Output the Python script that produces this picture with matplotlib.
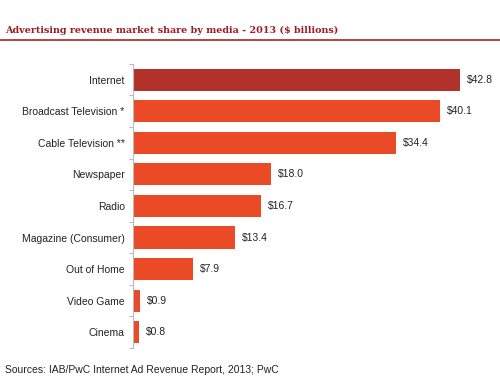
import matplotlib.pyplot as plt
from matplotlib.lines import Line2D

media = ["Internet", "Broadcast Television *", "Cable Television **", "Newspaper",
         "Radio", "Magazine (Consumer)", "Out of Home", "Video Game", "Cinema"]
revenue = [42.8, 40.1, 34.4, 18.0, 16.7, 13.4, 7.9, 0.9, 0.8]
colors = ["#b3312b"] + ["#ea4a26"] * 8

fig = plt.figure(figsize=(5, 3.85), dpi=100)
ax = fig.add_axes([0.266, 0.096, 0.734, 0.738])

y = list(range(len(media)))
ax.barh(y, revenue, height=0.7, color=colors)
ax.set_ylim(len(media) - 0.5, -0.5)
ax.set_xlim(0, 48)

for i, v in enumerate(revenue):
    ax.text(v + 0.9, i, f"${v:.1f}", va="center", ha="left",
            fontsize=7.5, family="Liberation Sans", color="#222222")

ax.set_yticks(y)
ax.set_yticklabels(media, fontsize=7.5, family="Liberation Sans", color="#222222")
ax.set_yticks([i - 0.5 for i in range(len(media) + 1)], minor=True)
ax.tick_params(axis="y", which="major", length=0, pad=6)
ax.tick_params(axis="y", which="minor", length=3, color="#bbbbbb", width=0.8)
ax.set_xticks([])
for s in ["top", "right", "bottom"]:
    ax.spines[s].set_visible(False)
ax.spines["left"].set_color("#bbbbbb")
ax.spines["left"].set_linewidth(0.8)

fig.text(0.01, 0.922, "Advertising revenue market share by media - 2013 ($ billions)",
         fontsize=6.9, fontweight="bold", family="DejaVu Serif", color="#9e1b22",
         va="center")
fig.add_artist(Line2D([0, 1], [0.896, 0.896], color="#a5262b", linewidth=1.2,
                      transform=fig.transFigure))
fig.text(0.01, 0.04, "Sources: IAB/PwC Internet Ad Revenue Report, 2013; PwC",
         fontsize=7.5, family="Liberation Sans", color="#222222", va="center")

fig.savefig("out.png", dpi=100)
